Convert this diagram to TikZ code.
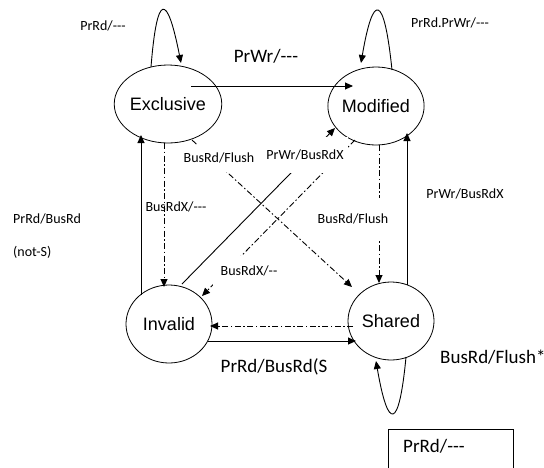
\documentclass[tikz,border=0pt]{standalone}
\usepackage{fontspec}
\newfontfamily\labfont{Carlito}
\newfontfamily\statefont{Liberation Sans}
\usetikzlibrary{arrows.meta,shapes.geometric,calc}
% plain hyphens, kept apart so they never merge into a dash ligature
\newcommand\hy{-\kern0pt }

\begin{document}
\begin{tikzpicture}[x=1pt,y=-1pt,
  state/.style={ellipse,draw,line width=0.8pt,minimum width=86pt,minimum height=78pt,
    inner sep=0pt,font=\statefont\fontsize{18}{20}\selectfont},
  tr/.style={line width=0.9pt,-{Triangle[length=8pt,width=7pt]}},
  dd/.style={dash pattern=on 6pt off 2.5pt on 1.5pt off 2.5pt},
  lab/.style={font=\labfont\fontsize{14}{16}\selectfont,inner sep=0pt},
  biglab/.style={font=\labfont\fontsize{19}{22}\selectfont,inner sep=0pt},
  cover/.style={lab,fill=white}
]
\useasboundingbox (0,0) rectangle (544,467);

% states
\node[state] (E) at (168,104) {Exclusive};
\node[state] (M) at (376,106) {Modified};
\node[state] (I) at (169,324) {Invalid};
\node[state] (S) at (391,321) {Shared};

% self loops
\draw[tr] ($(E)+(-17,-37)$) .. controls ($(E)+(-11,-112)$) and ($(E)+(-1,-112)$) .. ($(E)+(13,-41)$);
\draw[tr] ($(M)+(16,-36)$) .. controls ($(M)+(8,-113.5)$) and ($(M)+(-3,-113.5)$) .. ($(M)+(-15,-43)$);
\draw[tr] ($(S)+(15,36)$) .. controls ($(S)+(8,110)$) and ($(S)+(-3,110)$) .. ($(S)+(-15,40)$);

% transitions
\draw[tr] ($(E)+(23,-18)$) -- ($(M)+(-23,-20)$);
\draw[tr] ($(I)+(-28,-29)$) -- ($(E)+(-27,31)$);
\draw[tr,dd] ($(E)+(-4,39)$) -- ($(I)+(-5,-37)$);
\draw[tr] ($(I)+(13,-40)$) -- ($(M)+(-41,22)$);
\draw[tr,dd] ($(M)+(-21,34)$) -- ($(I)+(33,-28)$);
\draw[tr,dd] ($(E)+(24,36)$) -- ($(S)+(-39,-34)$);
\draw[tr,dd] ($(M)+(3,39)$) -- ($(S)+(-12,-38)$);
\draw[tr] ($(S)+(16,-36)$) -- ($(M)+(31,27)$);
\draw[tr,dd] ($(S)+(-38,5)$) -- ($(I)+(41,2)$);
\draw[tr] ($(I)+(39,17)$) -- ($(S)+(-35,20)$);

% labels sitting in white boxes over the lines
\node[cover,minimum width=72pt,minimum height=27pt] (lEIflush) at (219,158) {BusRd/Flush};
\node[cover,minimum width=86pt,minimum height=36pt] (lIM) at (305,155) {PrWr/BusRdX};
\node[cover,minimum width=72pt,minimum height=30pt] (lMI) at (249,271) {BusRdX/\hy\hy};
\node[cover,minimum width=77pt,minimum height=42pt] (lMS) at (353,219) {BusRd/Flush};

% other labels
\node[lab] (lEloop) at (103,26) {PrRd/\hy\hy\hy};
\node[lab] (lMloop) at (450,23) {PrRd.PrWr/\hy\hy\hy};
\node[biglab] (lEM) at (266,56) {PrWr/\hy\hy\hy};
\node[lab,anchor=west] (lIE) at (13,219) {PrRd/BusRd};
\node[lab,anchor=west] (lIE2) at (13,252) {(not-S)};
\node[lab] (lEI) at (176,207) {BusRdX/\hy\hy\hy};
\node[lab] (lSM) at (465,194) {PrWr/BusRdX};
\node[biglab] (lIS) at (274,367) {PrRd/BusRd(S};
\node[biglab,anchor=west] (lSloop) at (440,357) {BusRd/Flush*};

% framed note at the bottom
\node[draw,line width=0.8pt,anchor=north west,minimum width=125pt,minimum height=60pt] (note) at (388,429) {};
\node[biglab,anchor=west] (notetxt) at (403,446) {PrRd/\hy\hy\hy};
\end{tikzpicture}
\end{document}
